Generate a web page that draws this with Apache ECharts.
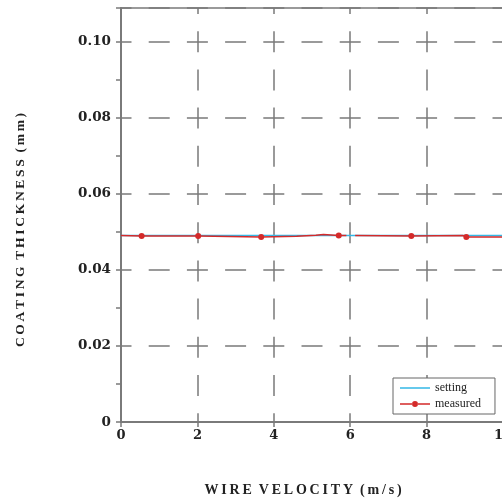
<!DOCTYPE html>
<html lang="en">
<head>
  <meta charset="UTF-8">
  <title>Coating thickness vs wire velocity</title>
  <style>
    html, body { margin: 0; padding: 0; background: #fff; }
    #chart { width: 502px; height: 503px; }
  </style>
</head>
<body>
<div id="chart"></div>
<script src="https://cdn.jsdelivr.net/npm/echarts@6/dist/echarts.min.js"></script>
<script>
  // data
  var xTicks = [0, 2, 4, 6, 8, 10];
  var settingX = [0, 10];
  var settingY = [0.0490, 0.0490];
  var measuredX = [0, 0.54, 2.02, 2.05, 3.67, 4.6, 4.65, 5.1, 5.12, 5.3, 5.32, 5.7, 5.9, 6.0, 6.13, 7.6, 8.95, 9.0, 9.04, 10];
  var measuredY = [0.0490, 0.0489, 0.0489, 0.0486, 0.0486, 0.0488, 0.0491, 0.0491, 0.0493, 0.0493, 0.0491, 0.0490, 0.0490, null, 0.0490, 0.0489, 0.0490, 0.0486, 0.0486, 0.0486];
  var measuredMark = [0, 1, 1, 0, 1, 0, 0, 0, 0, 0, 0, 1, 0, 0, 0, 1, 0, 0, 1, 0];

  // letter spaced titles, like the scanned figure
  function spaced(s) {
    return s.split('').join('\u2009');
  }

  var serif = '"Liberation Serif", "DejaVu Serif", serif';
  var gridGrey = '#7a7a7a';

  // legend icons: plain line, and line with a dot (corner specks fix the box)
  var box = 'M0,0h0.01v0.01h-0.01z M29.99,11.99h0.01v0.01h-0.01z ';
  var lineIcon = 'path://' + box + 'M0,5.3h30v1.5h-30z';
  var dotIcon = 'path://' + box + 'M0,5.3h12.2v1.5h-12.2z M17.8,5.3h12.2v1.5h-12.2z M12,6a3,3 0 1,0 6,0a3,3 0 1,0 -6,0z';

  var settingData = settingX.map(function (x, i) { return [x, settingY[i]]; });
  var measuredData = measuredX.map(function (x, i) {
    var y = measuredY[i] === null ? '-' : measuredY[i];
    return {
      value: [x, y],
      symbol: measuredMark[i] ? 'circle' : 'none'
    };
  });

  var myChart = echarts.init(document.getElementById('chart'));
  var option = {
    animation: false,
    backgroundColor: '#fff',
    grid: {
      left: 121, top: 8, width: 382, height: 414,
      outerBoundsMode: 'none',
      containLabel: false,
      show: true, borderColor: gridGrey, borderWidth: 1.5
    },
    legend: {
      orient: 'vertical',
      left: 393, top: 378,
      backgroundColor: '#fff',
      borderColor: '#666', borderWidth: 1,
      padding: [4, 14, 4, 7],
      itemGap: 4, itemWidth: 30, itemHeight: 12,
      textStyle: { fontFamily: serif, fontSize: 12, color: '#222' },
      data: [
        { name: 'setting', icon: lineIcon },
        { name: 'measured', icon: dotIcon }
      ]
    },
    xAxis: {
      type: 'value',
      min: 0, max: 10, interval: 2,
      name: spaced('WIRE') + '  ' + spaced('VELOCITY') + '  ' + spaced('(m/s)'),
      nameLocation: 'middle',
      nameGap: 61,
      nameTextStyle: { fontFamily: serif, fontWeight: 'bold', fontSize: 14, color: '#222', padding: [0, 18, 0, 0] },
      axisLine: { onZero: false, lineStyle: { color: gridGrey, width: 2 } },
      axisTick: { length: 5, lineStyle: { color: gridGrey, width: 1.5 } },
      axisLabel: { fontFamily: '"DejaVu Serif", serif', fontWeight: 'bold', fontSize: 13, color: '#222', margin: 7 },
      splitLine: { show: true, lineStyle: { color: gridGrey, width: 1.5, type: [21, 17.2], dashOffset: 15 } }
    },
    yAxis: {
      type: 'value',
      min: 0, max: 0.1088, interval: 0.02,
      name: spaced('COATING') + '  ' + spaced('THICKNESS') + '  ' + spaced('(mm)'),
      nameLocation: 'middle',
      nameGap: 93,
      nameTextStyle: { fontFamily: serif, fontWeight: 'bold', fontSize: 13.5, color: '#222', padding: [0, 30, 0, 0] },
      axisLine: { lineStyle: { color: gridGrey, width: 2 } },
      axisTick: { length: 5, lineStyle: { color: gridGrey, width: 1.5 } },
      minorTick: { show: true, splitNumber: 2, length: 5, lineStyle: { color: gridGrey, width: 1.5 } },
      axisLabel: {
        fontFamily: '"DejaVu Serif", serif', fontWeight: 'bold', fontSize: 13.5, color: '#222', margin: 10,
        showMaxLabel: false,
        formatter: function (v) { return v === 0 ? '0' : v.toFixed(2); }
      },
      splitLine: { show: true, lineStyle: { color: gridGrey, width: 1.5, type: [21, 17.2], dashOffset: 10.5 } }
    },
    series: [
      {
        name: 'setting',
        type: 'line',
        symbol: 'none',
        data: settingData,
        lineStyle: { color: '#35b8e6', width: 1.5 },
        itemStyle: { color: '#35b8e6' },
        z: 2
      },
      {
        name: 'measured',
        type: 'line',
        symbolSize: 6,
        connectNulls: false,
        data: measuredData,
        lineStyle: { color: '#d42a2a', width: 1.5 },
        itemStyle: { color: '#d42a2a' },
        z: 3
      }
    ]
  };

  myChart.setOption(option);
  window.addEventListener('resize', function () {
    myChart.resize();
  });
</script>
</body>
</html>
